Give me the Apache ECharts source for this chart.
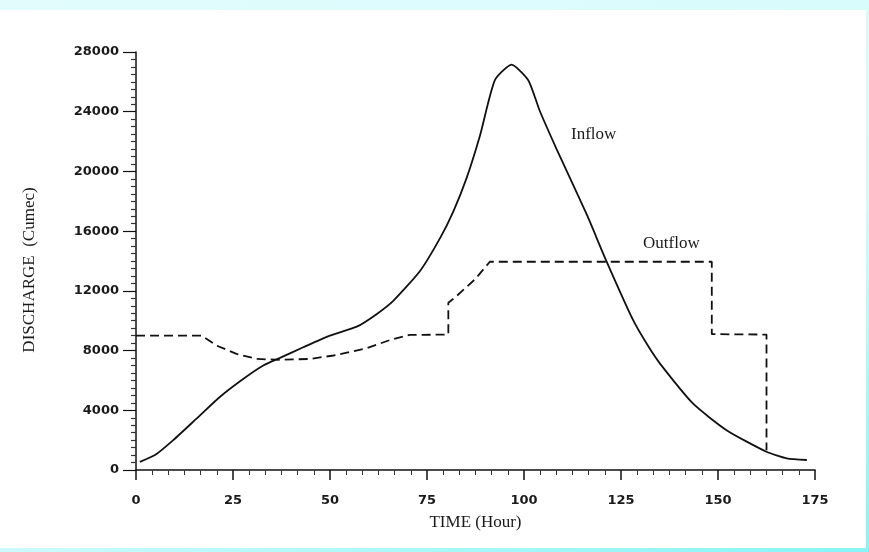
<!DOCTYPE html>
<html>
<head>
<meta charset="utf-8">
<script src="https://cdn.jsdelivr.net/npm/echarts@6/dist/echarts.min.js"></script>
<style>
  html, body { margin: 0; padding: 0; }
  body {
    width: 869px; height: 552px; overflow: hidden; position: relative;
    background: linear-gradient(160deg, #e2fcfd 0%, #d2fbfc 60%, #86f4f6 100%);
  }
  #paper { position: absolute; left: 0; top: 10px; width: 866px; height: 538px; background: #fff; }
  #main { position: absolute; left: 0; top: 0; width: 869px; height: 552px; }
</style>
</head>
<body>
<div id="paper"></div>
<div id="main"></div>
<script>
  // time (hour) / discharge (cumec)
  var inflowTime = [1, 4.9, 9.6, 15.6, 21.6, 27.7, 32.8, 37.1, 43.1, 50, 56.9, 62, 66.3, 73.2, 78.4, 81.8, 85.2, 88.7, 92.5, 96.8, 101.1, 104, 108.4, 116.2, 120.9, 128.2, 132, 135.1, 143.6, 152.2, 162.5, 167.7, 172.9]
  var inflowQ = [550, 1000, 2000, 3440, 4890, 6110, 7000, 7510, 8220, 9000, 9600, 10440, 11330, 13330, 15550, 17330, 19550, 22440, 26110, 27150, 26110, 24100, 21500, 17100, 14200, 10000, 8300, 7110, 4440, 2670, 1220, 780, 670]

  var outflowTime = [0, 16.9, 20.8, 25.9, 31.1, 37.1, 44.8, 50.9, 59.5, 65.5, 70.6, 80.5, 80.5, 82.2, 87.4, 91.2, 148.4, 148.4, 162.5, 162.5]
  var outflowQ = [9000, 9000, 8330, 7780, 7440, 7380, 7440, 7670, 8160, 8710, 9050, 9070, 11200, 11550, 12780, 13950, 13950, 9100, 9070, 1330]

  var xTicks = [0, 25, 50, 75, 100, 125, 150, 175]
  var yTicks = [0, 4000, 8000, 12000, 16000, 20000, 24000, 28000]

  function pairs(xs, ys) {
    return xs.map(function (x, i) { return [x, ys[i]] })
  }

  var ink = '#111'
  var serif = 'Liberation Serif'
  var chart = echarts.init(document.getElementById('main'))

  chart.setOption({
    animation: false,
    grid: { left: 136, right: 54, top: 52, bottom: 82 },
    xAxis: {
      type: 'value',
      min: xTicks[0],
      max: xTicks[xTicks.length - 1],
      interval: 25,
      name: 'TIME (Hour)',
      nameLocation: 'middle',
      nameGap: 44,
      nameTextStyle: { fontFamily: serif, fontSize: 17, color: '#1a1a1a' },
      axisLine: { lineStyle: { color: ink, width: 1.5 } },
      axisTick: { length: 10, lineStyle: { color: ink, width: 1.5 } },
      minorTick: { show: true, splitNumber: 6, length: 5, lineStyle: { color: '#333', width: 1 } },
      axisLabel: {
        margin: 24, fontFamily: 'DejaVu Sans', fontWeight: 'bold', fontSize: 13, color: '#1a1a1a',
        formatter: function (v) { return String(v) }
      },
      splitLine: { show: false }
    },
    yAxis: {
      type: 'value',
      min: yTicks[0],
      max: yTicks[yTicks.length - 1],
      interval: 4000,
      axisLine: { show: true, lineStyle: { color: ink, width: 1.5 } },
      axisTick: { show: true, length: 13, lineStyle: { color: ink, width: 1.2 } },
      minorTick: { show: true, splitNumber: 8, length: 5, lineStyle: { color: '#333', width: 1.2 } },
      axisLabel: {
        margin: 17, fontFamily: 'DejaVu Sans', fontWeight: 'bold', fontSize: 13, color: '#1a1a1a',
        formatter: function (v) { return String(v) }
      },
      splitLine: { show: false }
    },
    graphic: [
      {
        type: 'text', x: 30, y: 270, rotation: Math.PI / 2,
        style: { text: 'DISCHARGE  (Cumec)', fontFamily: serif, fontSize: 17, fill: '#1a1a1a', align: 'center', verticalAlign: 'middle' }
      },
      { type: 'text', left: 571, top: 126, style: { text: 'Inflow', fontFamily: serif, fontSize: 17, fill: '#1a1a1a' } },
      { type: 'text', left: 643, top: 235, style: { text: 'Outflow', fontFamily: serif, fontSize: 17, fill: '#1a1a1a' } }
    ],
    series: [
      {
        name: 'Inflow',
        type: 'line',
        data: pairs(inflowTime, inflowQ),
        showSymbol: false,
        smooth: 0.2,
        lineStyle: { color: ink, width: 1.8 }
      },
      {
        name: 'Outflow',
        type: 'line',
        data: pairs(outflowTime, outflowQ),
        showSymbol: false,
        lineStyle: { color: ink, width: 1.8, type: [9, 5] }
      }
    ]
  })
</script>
</body>
</html>
